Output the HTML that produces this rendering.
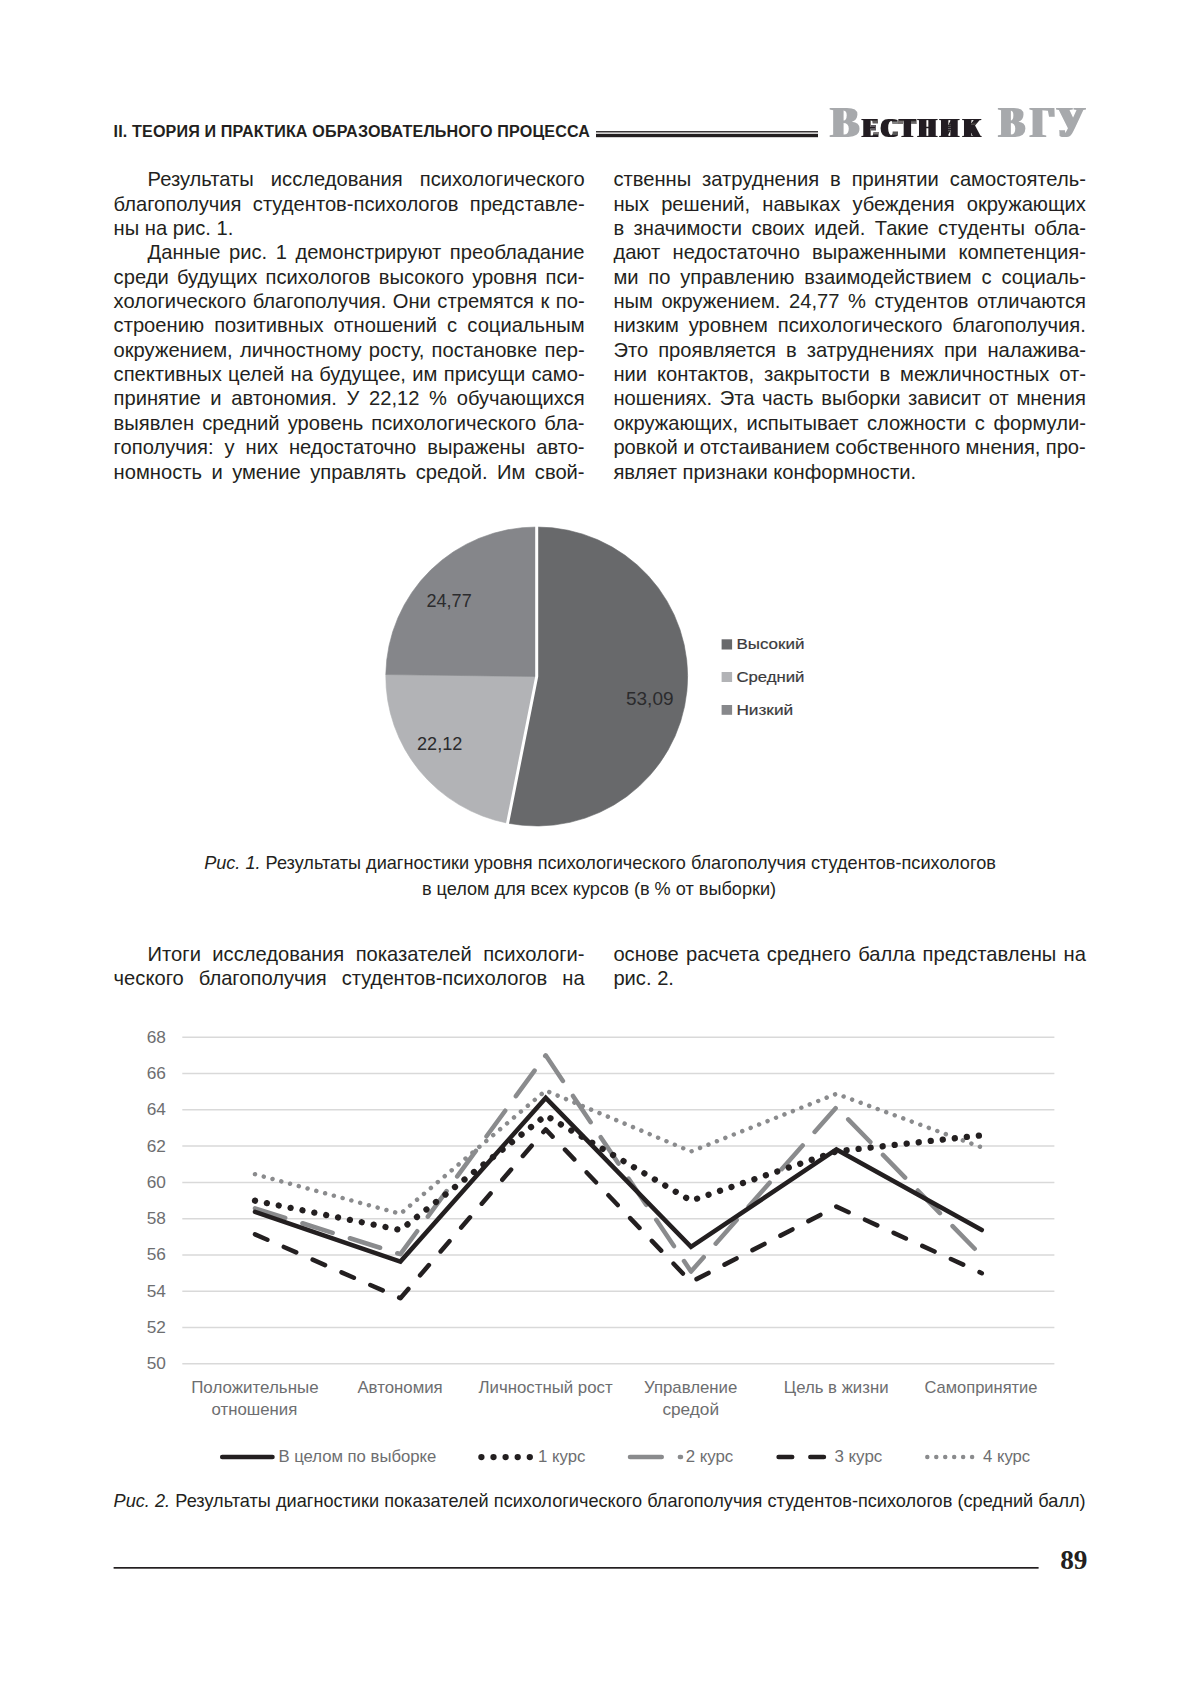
<!DOCTYPE html>
<html lang="ru"><head><meta charset="utf-8"><title>Вестник ВГУ</title>
<style>
html,body{margin:0;padding:0;background:#fff}
body{width:1200px;height:1697px;position:relative;overflow:hidden;font-family:"Liberation Sans",sans-serif;color:#231f20}
.ln{position:absolute;font-size:20.16px;line-height:24.36px;height:24.36px;white-space:nowrap;text-align:left}
.ln.j{white-space:normal;text-align:justify;text-align-last:justify}
.hd{position:absolute;left:113.6px;top:121.21px;font-size:16.13px;line-height:20px;font-weight:bold;white-space:nowrap;letter-spacing:0.14px}
.cap{position:absolute;font-size:18.14px;line-height:25px;white-space:nowrap;text-align:center}
.cap i{font-style:italic}
svg{position:absolute;left:0;top:0}
.ax{font-family:"Liberation Sans",sans-serif;font-size:16.2px;fill:#6d6e70}
.pl{font-family:"Liberation Sans",sans-serif;font-size:18.2px;fill:#2b2b2d}
.lg{font-family:"Liberation Sans",sans-serif;font-size:15px;fill:#3a3a3c;stroke:#3a3a3c;stroke-width:0.2px}
.logo{font-family:"Liberation Serif",serif;font-weight:bold}
.pg{position:absolute;left:1060.2px;top:1545.1px;font-family:"Liberation Serif",serif;font-weight:bold;font-size:27.3px;line-height:30px;white-space:nowrap}
</style></head><body>
<div class="hd">II. ТЕОРИЯ И ПРАКТИКА ОБРАЗОВАТЕЛЬНОГО ПРОЦЕССА</div>
<div class="ln j" style="left:147.6px;top:167.23px;width:437.0px">Результаты исследования психологического</div>
<div class="ln j" style="left:113.6px;top:191.59px;width:471.0px">благополучия студентов-психологов представле-</div>
<div class="ln" style="left:113.6px;top:215.95px;width:471.0px">ны на рис. 1.</div>
<div class="ln j" style="left:147.6px;top:240.31px;width:437.0px">Данные рис. 1 демонстрируют преобладание</div>
<div class="ln j" style="left:113.6px;top:264.67px;width:471.0px">среди будущих психологов высокого уровня пси-</div>
<div class="ln j" style="left:113.6px;top:289.03px;width:471.0px">хологического благополучия. Они стремятся к по-</div>
<div class="ln j" style="left:113.6px;top:313.39px;width:471.0px">строению позитивных отношений с социальным</div>
<div class="ln j" style="left:113.6px;top:337.75px;width:471.0px">окружением, личностному росту, постановке пер-</div>
<div class="ln j" style="left:113.6px;top:362.11px;width:471.0px">спективных целей на будущее, им присущи само-</div>
<div class="ln j" style="left:113.6px;top:386.47px;width:471.0px">принятие и автономия. У 22,12 % обучающихся</div>
<div class="ln j" style="left:113.6px;top:410.83px;width:471.0px">выявлен средний уровень психологического бла-</div>
<div class="ln j" style="left:113.6px;top:435.19px;width:471.0px">гополучия: у них недостаточно выражены авто-</div>
<div class="ln j" style="left:113.6px;top:459.55px;width:471.0px">номность и умение управлять средой. Им свой-</div>
<div class="ln j" style="left:613.4px;top:167.23px;width:472.5px">ственны затруднения в принятии самостоятель-</div>
<div class="ln j" style="left:613.4px;top:191.59px;width:472.5px">ных решений, навыках убеждения окружающих</div>
<div class="ln j" style="left:613.4px;top:215.95px;width:472.5px">в значимости своих идей. Такие студенты обла-</div>
<div class="ln j" style="left:613.4px;top:240.31px;width:472.5px">дают недостаточно выраженными компетенция-</div>
<div class="ln j" style="left:613.4px;top:264.67px;width:472.5px">ми по управлению взаимодействием с социаль-</div>
<div class="ln j" style="left:613.4px;top:289.03px;width:472.5px">ным окружением. 24,77 % студентов отличаются</div>
<div class="ln j" style="left:613.4px;top:313.39px;width:472.5px">низким уровнем психологического благополучия.</div>
<div class="ln j" style="left:613.4px;top:337.75px;width:472.5px">Это проявляется в затруднениях при налажива-</div>
<div class="ln j" style="left:613.4px;top:362.11px;width:472.5px">нии контактов, закрытости в межличностных от-</div>
<div class="ln j" style="left:613.4px;top:386.47px;width:472.5px">ношениях. Эта часть выборки зависит от мнения</div>
<div class="ln j" style="left:613.4px;top:410.83px;width:472.5px">окружающих, испытывает сложности с формули-</div>
<div class="ln" style="left:613.4px;top:435.19px;width:472.5px;word-spacing:-0.25px;letter-spacing:-0.03px">ровкой и отстаиванием собственного мнения, про-</div>
<div class="ln" style="left:613.4px;top:459.55px;width:472.5px">являет признаки конформности.</div>
<div class="cap" style="left:0;width:1200px;top:851.41px"><i>Рис. 1.</i> Результаты диагностики уровня психологического благополучия студентов-психологов</div>
<div class="cap" style="left:0;width:1198px;top:876.71px">в целом для всех курсов (в % от выборки)</div>
<div class="ln j" style="left:147.6px;top:941.63px;width:437.0px">Итоги исследования показателей психологи-</div>
<div class="ln j" style="left:113.6px;top:965.99px;width:471.0px">ческого благополучия студентов-психологов на</div>
<div class="ln j" style="left:613.4px;top:941.63px;width:472.5px">основе расчета среднего балла представлены на</div>
<div class="ln" style="left:613.4px;top:965.99px;width:472.5px">рис. 2.</div>
<div class="cap" style="left:113.6px;width:972px;top:1489.21px;text-align:justify;text-align-last:justify;white-space:normal"><i>Рис. 2.</i> Результаты диагностики показателей психологического благополучия студентов-психологов (средний балл)</div>
<div class="pg">89</div>
<svg width="1200" height="1697" viewBox="0 0 1200 1697">
<!-- header rules -->
<rect x="596" y="131" width="222" height="1.5" fill="#3a3637"/>
<rect x="596" y="133.8" width="222" height="3.4" fill="#231f20"/>
<!-- logo -->
<defs>
<filter id="fatB1" x="-20%" y="-10%" width="140%" height="120%"><feMorphology operator="dilate" radius="2.50 0"/></filter>
<filter id="fatB" x="-10%" y="-10%" width="120%" height="120%"><feMorphology operator="dilate" radius="2.74 0"/></filter>
<filter id="fatS" x="-10%" y="-10%" width="120%" height="120%"><feMorphology operator="dilate" radius="2.35 0"/></filter>
</defs>
<g class="logo">
<text transform="translate(0,136.8) scale(0.9416,1)" x="882.51" y="0" font-size="44" fill="#a7a9ac" filter="url(#fatB1)">В</text>
<text transform="translate(0,136.8) scale(0.7862,1)" x="1097.65 1121.10 1144.65 1168.73 1196.72 1225.79" y="0" font-size="28.2" fill="#231f20" filter="url(#fatS)">ЕСТНИК</text>
<text transform="translate(0,136.8) scale(0.8579,1)" x="1164.82 1201.48 1231.96" y="0" font-size="44" fill="#a7a9ac" filter="url(#fatB)">ВГУ</text>
</g>
<!-- pie -->
<path d="M536.7,676.5 L536.70,527.00 A150.9,149.5 0 1 1 507.59,823.19 Z" fill="#68696b" stroke="#68696b" stroke-width="0.6"/>
<path d="M536.7,676.5 L507.59,823.19 A150.9,149.5 0 0 1 385.81,674.53 Z" fill="#b2b3b6" stroke="#b2b3b6" stroke-width="0.6"/>
<path d="M536.7,676.5 L385.81,674.53 A150.9,149.5 0 0 1 536.70,527.00 Z" fill="#85868a" stroke="#85868a" stroke-width="0.6"/>
<polyline points="536.70,524.01 536.7,676.5 507.00,826.13" fill="none" stroke="#fff" stroke-width="3" stroke-linejoin="miter"/>
<text x="426.5" y="606.7" textLength="45.2" lengthAdjust="spacingAndGlyphs" class="pl">24,77</text>
<text x="626.0" y="704.5" textLength="47.5" lengthAdjust="spacingAndGlyphs" class="pl">53,09</text>
<text x="417.0" y="749.8" textLength="45.3" lengthAdjust="spacingAndGlyphs" class="pl">22,12</text>
<rect x="721.6" y="639.3" width="10.5" height="10.2" fill="#68696b"/>
<rect x="721.6" y="672.0" width="10.5" height="10.0" fill="#b2b3b6"/>
<rect x="721.6" y="705.0" width="10.5" height="9.8" fill="#87888b"/>
<text x="736.4" y="648.7" textLength="68.0" lengthAdjust="spacingAndGlyphs" class="lg">Высокий</text>
<text x="736.4" y="681.6" textLength="68.0" lengthAdjust="spacingAndGlyphs" class="lg">Средний</text>
<text x="736.4" y="714.7" textLength="56.8" lengthAdjust="spacingAndGlyphs" class="lg">Низкий</text>
<!-- line chart -->
<line x1="182.3" x2="1054.4" y1="1037.30" y2="1037.30" stroke="#d9d9d9" stroke-width="1.5"/>
<text x="146.7" y="1042.85" textLength="19.2" lengthAdjust="spacingAndGlyphs" class="ax">68</text>
<line x1="182.3" x2="1054.4" y1="1073.57" y2="1073.57" stroke="#d9d9d9" stroke-width="1.5"/>
<text x="146.7" y="1079.12" textLength="19.2" lengthAdjust="spacingAndGlyphs" class="ax">66</text>
<line x1="182.3" x2="1054.4" y1="1109.84" y2="1109.84" stroke="#d9d9d9" stroke-width="1.5"/>
<text x="146.7" y="1115.39" textLength="19.2" lengthAdjust="spacingAndGlyphs" class="ax">64</text>
<line x1="182.3" x2="1054.4" y1="1146.11" y2="1146.11" stroke="#d9d9d9" stroke-width="1.5"/>
<text x="146.7" y="1151.66" textLength="19.2" lengthAdjust="spacingAndGlyphs" class="ax">62</text>
<line x1="182.3" x2="1054.4" y1="1182.38" y2="1182.38" stroke="#d9d9d9" stroke-width="1.5"/>
<text x="146.7" y="1187.93" textLength="19.2" lengthAdjust="spacingAndGlyphs" class="ax">60</text>
<line x1="182.3" x2="1054.4" y1="1218.65" y2="1218.65" stroke="#d9d9d9" stroke-width="1.5"/>
<text x="146.7" y="1224.20" textLength="19.2" lengthAdjust="spacingAndGlyphs" class="ax">58</text>
<line x1="182.3" x2="1054.4" y1="1254.92" y2="1254.92" stroke="#d9d9d9" stroke-width="1.5"/>
<text x="146.7" y="1260.47" textLength="19.2" lengthAdjust="spacingAndGlyphs" class="ax">56</text>
<line x1="182.3" x2="1054.4" y1="1291.19" y2="1291.19" stroke="#d9d9d9" stroke-width="1.5"/>
<text x="146.7" y="1296.74" textLength="19.2" lengthAdjust="spacingAndGlyphs" class="ax">54</text>
<line x1="182.3" x2="1054.4" y1="1327.46" y2="1327.46" stroke="#d9d9d9" stroke-width="1.5"/>
<text x="146.7" y="1333.01" textLength="19.2" lengthAdjust="spacingAndGlyphs" class="ax">52</text>
<line x1="182.3" x2="1054.4" y1="1363.73" y2="1363.73" stroke="#d9d9d9" stroke-width="1.5"/>
<text x="146.7" y="1369.28" textLength="19.2" lengthAdjust="spacingAndGlyphs" class="ax">50</text>

<polyline points="255.0,1174.2 400.4,1213.8 545.7,1090.6 691.0,1151.5 836.4,1093.8 981.8,1147.4" fill="none" stroke="#8a8b8d" stroke-width="4.5" stroke-linecap="round" stroke-linejoin="round" stroke-dasharray="0.01 9.07"/>
<polyline points="255.0,1208.3 400.4,1254.2 545.7,1055.3 691.0,1271.5 836.4,1107.3 981.8,1256.0" fill="none" stroke="#8a8b8d" stroke-width="4.536" stroke-linecap="round" stroke-linejoin="round" stroke-dasharray="31.66 18.09"/>
<polyline points="255.0,1234.3 400.4,1298.2 545.7,1129.4 691.0,1282.0 836.4,1206.6 981.8,1273.2" fill="none" stroke="#231f20" stroke-width="4.536" stroke-linecap="round" stroke-linejoin="round" stroke-dasharray="13.5 18.0"/>
<polyline points="255.0,1200.7 400.4,1230.0 545.7,1115.5 691.0,1200.7 836.4,1151.4 981.8,1135.3" fill="none" stroke="#231f20" stroke-width="6.3" stroke-linecap="round" stroke-linejoin="round" stroke-dasharray="0.01 12.09"/>
<polyline points="255.0,1211.8 400.4,1261.6 545.7,1097.9 691.0,1246.9 836.4,1149.4 981.8,1230.0" fill="none" stroke="#231f20" stroke-width="4.536" stroke-linecap="round" stroke-linejoin="miter"/>

<text x="191.2" y="1392.6" textLength="127.4" lengthAdjust="spacingAndGlyphs" class="ax">Положительные</text>
<text x="211.6" y="1414.7" textLength="85.7" lengthAdjust="spacingAndGlyphs" class="ax">отношения</text>
<text x="357.4" y="1392.6" textLength="85.3" lengthAdjust="spacingAndGlyphs" class="ax">Автономия</text>
<text x="478.5" y="1392.6" textLength="134.2" lengthAdjust="spacingAndGlyphs" class="ax">Личностный рост</text>
<text x="644.0" y="1392.6" textLength="93.3" lengthAdjust="spacingAndGlyphs" class="ax">Управление</text>
<text x="662.4" y="1414.7" textLength="56.6" lengthAdjust="spacingAndGlyphs" class="ax">средой</text>
<text x="783.8" y="1392.6" textLength="104.7" lengthAdjust="spacingAndGlyphs" class="ax">Цель в жизни</text>
<text x="924.5" y="1392.6" textLength="113.0" lengthAdjust="spacingAndGlyphs" class="ax">Самопринятие</text>

<line x1="222.2" x2="272.5" y1="1457.1" y2="1457.1" stroke="#231f20" stroke-width="4.536" stroke-linecap="round"/>
<text x="278.4" y="1462.1" textLength="157.9" lengthAdjust="spacingAndGlyphs" class="ax">В целом по выборке</text>
<line x1="481.4" x2="531" y1="1457.1" y2="1457.1" stroke="#231f20" stroke-width="6.3" stroke-linecap="round" stroke-dasharray="0.01 12.09"/>
<text x="538.0" y="1462.1" textLength="47.3" lengthAdjust="spacingAndGlyphs" class="ax">1 курс</text>
<line x1="630.0" x2="681" y1="1457.1" y2="1457.1" stroke="#8a8b8d" stroke-width="4.536" stroke-linecap="round" stroke-dasharray="31.75 18.14"/>
<text x="685.7" y="1462.1" textLength="47.6" lengthAdjust="spacingAndGlyphs" class="ax">2 курс</text>
<line x1="778.6" x2="824" y1="1457.1" y2="1457.1" stroke="#231f20" stroke-width="4.536" stroke-linecap="round" stroke-dasharray="13.6 18.14"/>
<text x="834.4" y="1462.1" textLength="47.9" lengthAdjust="spacingAndGlyphs" class="ax">3 курс</text>
<line x1="927.3" x2="972.6" y1="1457.1" y2="1457.1" stroke="#8a8b8d" stroke-width="4.5" stroke-linecap="round" stroke-dasharray="0.01 8.95"/>
<text x="983.1" y="1462.1" textLength="47.1" lengthAdjust="spacingAndGlyphs" class="ax">4 курс</text>

<!-- footer -->
<rect x="113.6" y="1567" width="925" height="1.7" fill="#231f20"/>
</svg>
</body></html>
